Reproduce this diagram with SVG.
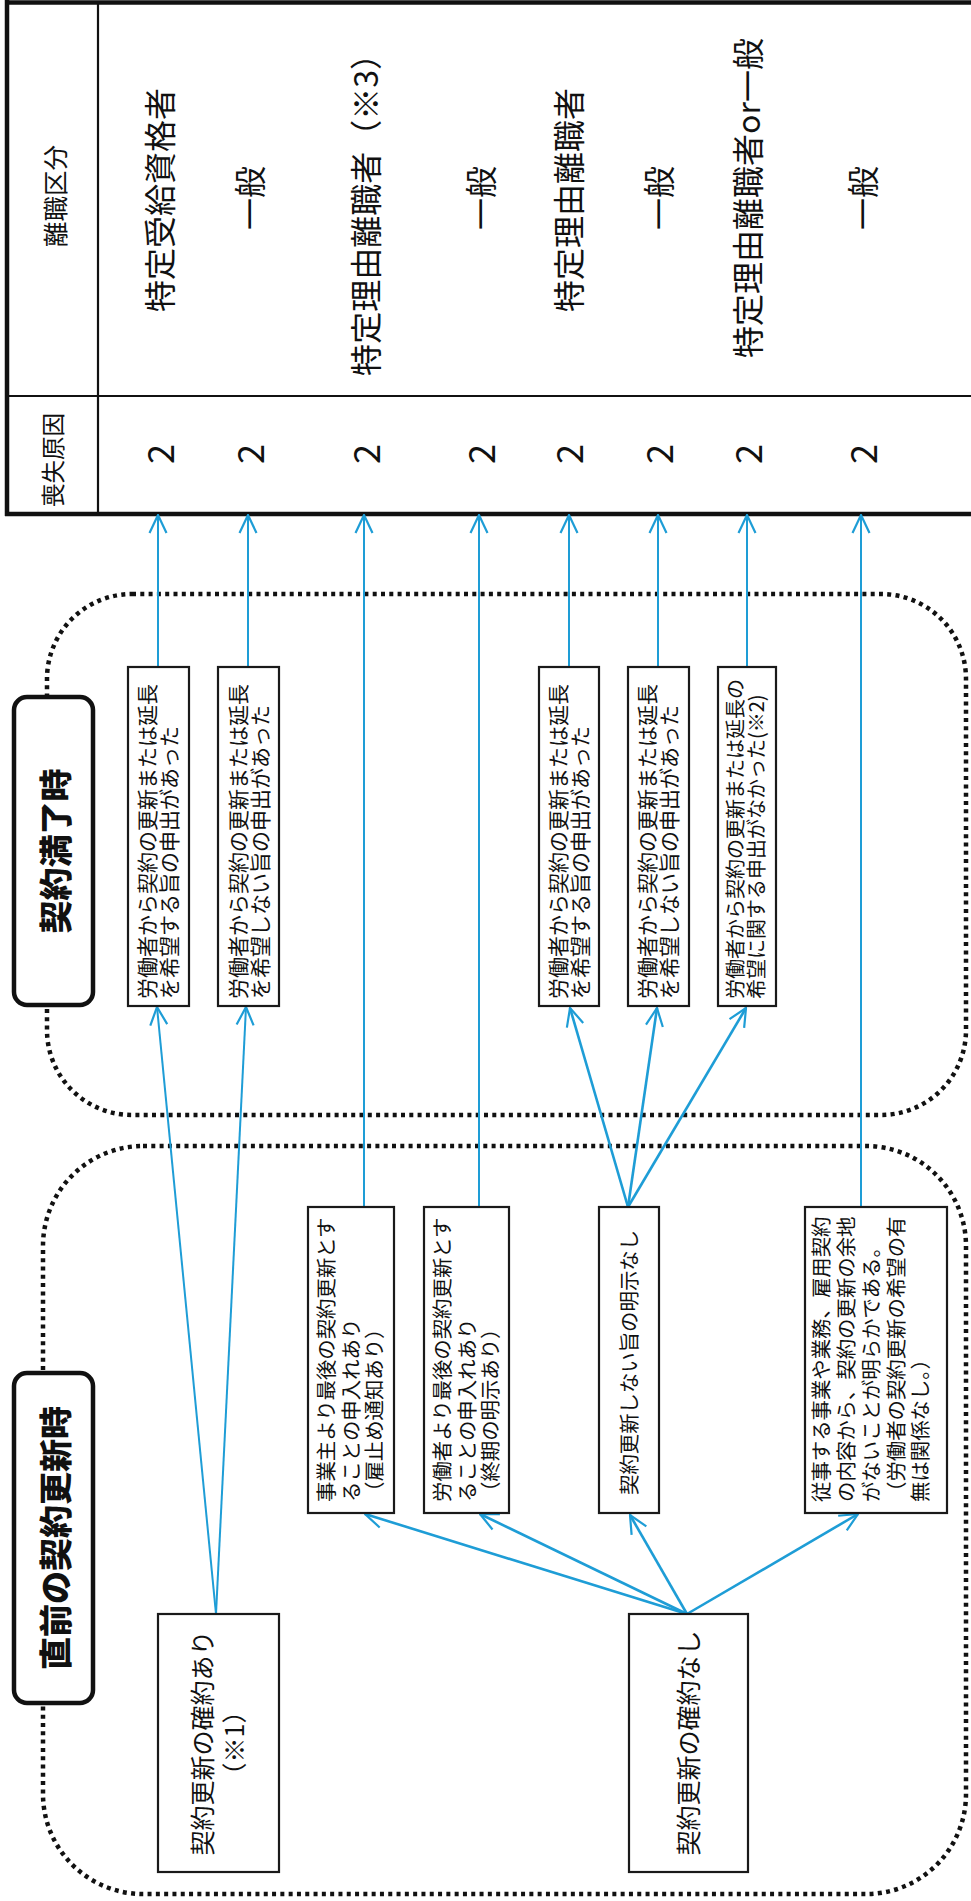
<svg xmlns="http://www.w3.org/2000/svg" width="971" height="1901" viewBox="0 0 971 1901">
<style>
text{font-family:"Noto Sans CJK JP","Noto Sans",sans-serif;fill:#111;}
.t{dominant-baseline:central;}
.c{text-anchor:middle;}
.big{font-size:32px;}
.num{font-size:36px;}
.hdr{font-size:23.5px;}
.hdr2{font-size:25.5px;}
.sm{font-size:21px;}
.sm2{font-size:20px;}
.md{font-size:20.4px;}
.lg{font-size:25px;}
.ttl{font-size:33px;font-weight:900;}
.box{fill:#fff;stroke:#1a1a1a;stroke-width:2.2;}
.lbl{fill:#fff;stroke:#111;stroke-width:4.5;}
.dot{fill:none;stroke:#111;stroke-width:4.5;stroke-dasharray:4 4.3;}
.tl{stroke:#111;fill:none;}
.cn{fill:none;stroke:#1e9dd6;stroke-width:2;marker-end:url(#ah);}
.cf{fill:none;stroke:#1e9dd6;stroke-width:2.6;marker-end:url(#ah);}
</style>
<defs>
<marker id="ah" markerUnits="userSpaceOnUse" viewBox="0 0 20 20" markerWidth="20" markerHeight="20" refX="19" refY="10" orient="auto">
<path d="M1,1.5 L19,10 L1,18.5" fill="none" stroke="#1e9dd6" stroke-width="2.2"/>
</marker>
</defs>
<rect width="971" height="1901" fill="#fff"/>

<g id="table">
<line class="tl" x1="5" y1="2.5" x2="971" y2="2.5" stroke-width="4.5"/>
<line class="tl" x1="7" y1="0" x2="7" y2="516" stroke-width="4.5"/>
<line class="tl" x1="5" y1="514" x2="971" y2="514" stroke-width="4.5"/>
<line class="tl" x1="98" y1="2" x2="98" y2="514" stroke-width="2.2"/>
<line class="tl" x1="7" y1="396" x2="971" y2="396" stroke-width="2.2"/>
<text class="t c hdr2" transform="translate(53 196) rotate(-90)">離職区分</text>
<text class="t c hdr" transform="translate(52 460) rotate(-90)">喪失原因</text>
<g id="row1"><text class="t c num" transform="translate(158 454) rotate(-90)">2</text><text class="t c big" transform="translate(158 200) rotate(-90)">特定受給資格者</text></g>
<g id="row2"><text class="t c num" transform="translate(248 454) rotate(-90)">2</text><text class="t c big" transform="translate(248 198) rotate(-90)">一般</text></g>
<g id="row3"><text class="t c num" transform="translate(364 454) rotate(-90)">2</text><text class="t c big" transform="translate(364 207) rotate(-90)">特定理由離職者（※3）</text></g>
<g id="row4"><text class="t c num" transform="translate(479 454) rotate(-90)">2</text><text class="t c big" transform="translate(479 198) rotate(-90)">一般</text></g>
<g id="row5"><text class="t c num" transform="translate(567 454) rotate(-90)">2</text><text class="t c big" transform="translate(567 200) rotate(-90)">特定理由離職者</text></g>
<g id="row6"><text class="t c num" transform="translate(657 454) rotate(-90)">2</text><text class="t c big" transform="translate(657 198) rotate(-90)">一般</text></g>
<g id="row7"><text class="t c num" transform="translate(746 454) rotate(-90)">2</text><text class="t c big" transform="translate(746 198) rotate(-90)">特定理由離職者or一般</text></g>
<g id="row8"><text class="t c num" transform="translate(861 454) rotate(-90)">2</text><text class="t c big" transform="translate(861 198) rotate(-90)">一般</text></g>
</g>

<g id="region-expiry">
<rect class="dot" x="47" y="594" width="919" height="521" rx="85" ry="85"/>
</g>
<g id="region-renewal">
<rect class="dot" x="43" y="1146" width="923" height="748" rx="100" ry="100"/>
</g>

<g id="connectors">
<line class="cn" x1="158" y1="667" x2="158" y2="515"/>
<line class="cn" x1="248" y1="667" x2="248" y2="515"/>
<line class="cn" x1="364" y1="1207" x2="364" y2="515"/>
<line class="cn" x1="479" y1="1207" x2="479" y2="515"/>
<line class="cn" x1="569" y1="667" x2="569" y2="515"/>
<line class="cn" x1="658" y1="667" x2="658" y2="515"/>
<line class="cn" x1="747" y1="667" x2="747" y2="515"/>
<line class="cn" x1="861" y1="1207" x2="861" y2="515"/>
<line class="cn" x1="216" y1="1614" x2="157" y2="1007"/>
<line class="cn" x1="216" y1="1614" x2="246" y2="1007"/>
<line class="cf" x1="628" y1="1207" x2="570" y2="1008"/>
<line class="cf" x1="628" y1="1207" x2="657" y2="1008"/>
<line class="cf" x1="628" y1="1207" x2="746" y2="1008"/>
<line class="cf" x1="687" y1="1614" x2="365" y2="1514"/>
<line class="cf" x1="687" y1="1614" x2="480" y2="1514"/>
<line class="cf" x1="687" y1="1614" x2="630" y2="1515"/>
<line class="cf" x1="687" y1="1614" x2="858" y2="1514"/>
</g>

<g id="label-expiry">
<rect class="lbl" x="14" y="697" width="79" height="308" rx="13" ry="13"/>
<text class="t c ttl" transform="translate(54 851) rotate(-90)">契約満了時</text>
</g>
<g id="label-renewal">
<rect class="lbl" x="14" y="1373" width="79" height="330" rx="13" ry="13"/>
<text class="t c ttl" transform="translate(54 1538) rotate(-90)">直前の契約更新時</text>
</g>

<g id="A1">
<rect class="box" x="128" y="667" width="61" height="339"/>
<text class="t sm" transform="translate(128 999) rotate(-90)"><tspan x="0" y="18">労働者から契約の更新または延長</tspan><tspan x="0" y="40">を希望する旨の申出があった</tspan></text>
</g>
<g id="A2">
<rect class="box" x="218" y="667" width="61" height="339"/>
<text class="t sm" transform="translate(218 999) rotate(-90)"><tspan x="0" y="19">労働者から契約の更新または延長</tspan><tspan x="0" y="41">を希望しない旨の申出があった</tspan></text>
</g>
<g id="A3">
<rect class="box" x="539" y="667" width="60" height="339"/>
<text class="t sm" transform="translate(539 999) rotate(-90)"><tspan x="0" y="18">労働者から契約の更新または延長</tspan><tspan x="0" y="40">を希望する旨の申出があった</tspan></text>
</g>
<g id="A4">
<rect class="box" x="628" y="667" width="61" height="339"/>
<text class="t sm" transform="translate(628 999) rotate(-90)"><tspan x="0" y="18">労働者から契約の更新または延長</tspan><tspan x="0" y="40">を希望しない旨の申出があった</tspan></text>
</g>
<g id="A5">
<rect class="box" x="718" y="667" width="58" height="339"/>
<text class="t sm2" transform="translate(718 999) rotate(-90)"><tspan x="0" y="16">労働者から契約の更新または延長の</tspan><tspan x="0" y="37">希望に関する申出がなかった(※2)</tspan></text>
</g>

<g id="B3">
<rect class="box" x="308" y="1207" width="86" height="306"/>
<text class="t md" transform="translate(308 1502) rotate(-90)"><tspan x="0" y="17">事業主より最後の契約更新とす</tspan><tspan x="0" y="42">ることの申入れあり</tspan><tspan x="0" y="65">（雇止め通知あり）</tspan></text>
</g>
<g id="B4">
<rect class="box" x="424" y="1207" width="85" height="306"/>
<text class="t md" transform="translate(424 1502) rotate(-90)"><tspan x="0" y="17">労働者より最後の契約更新とす</tspan><tspan x="0" y="42">ることの申入れあり</tspan><tspan x="0" y="65">（終期の明示あり）</tspan></text>
</g>
<g id="B5">
<rect class="box" x="599" y="1207" width="60" height="306"/>
<text class="t md" transform="translate(628 1495) rotate(-90)">契約更新しない旨の明示なし</text>
</g>
<g id="B6">
<rect class="box" x="805" y="1207" width="142" height="306"/>
<text class="t md" transform="translate(805 1502) rotate(-90)"><tspan x="0" y="15">従事する事業や業務、雇用契約</tspan><tspan x="0" y="40">の内容から、契約の更新の余地</tspan><tspan x="0" y="65">がないことが明らかである。</tspan><tspan x="0" y="90">（労働者の契約更新の希望の有</tspan><tspan x="0" y="114">無は関係なし。）</tspan></text>
</g>

<g id="B1">
<rect class="box" x="158" y="1614" width="121" height="258"/>
<text class="t c lg" transform="translate(158 1743) rotate(-90)"><tspan x="0" y="43">契約更新の確約あり</tspan><tspan x="0" y="75">（※1）</tspan></text>
</g>
<g id="B2">
<rect class="box" x="629" y="1614" width="119" height="258"/>
<text class="t c lg" transform="translate(687 1743) rotate(-90)">契約更新の確約なし</text>
</g>
</svg>
